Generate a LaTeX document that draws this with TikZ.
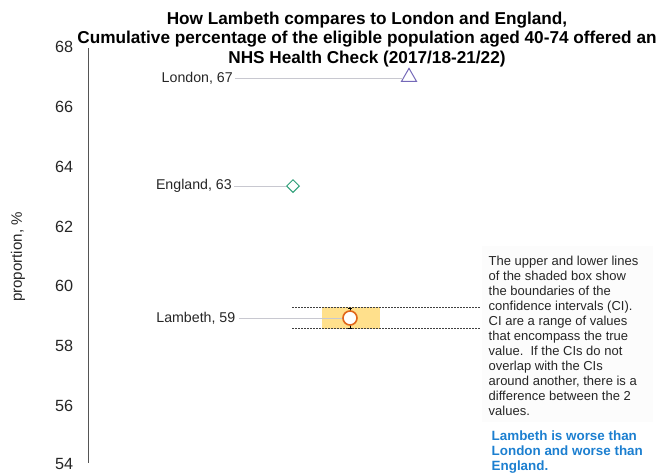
\documentclass[tikz,border=0pt]{standalone}
\usepackage{fontspec}
\setmainfont{Liberation Sans}
\usetikzlibrary{shapes.geometric}
\definecolor{lonc}{HTML}{7468B8}
\definecolor{engc}{HTML}{2E9E78}
\definecolor{lamc}{HTML}{E0661A}
\definecolor{cibox}{HTML}{FFE08C}
\definecolor{concl}{HTML}{1C7FD0}
\definecolor{axc}{HTML}{555555}
\definecolor{connc}{HTML}{C8C8D0}
\begin{document}
\begin{tikzpicture}[x=1pt,y=-1pt,
  ticklab/.style={anchor=east,font=\fontsize{16.2}{17}\selectfont,text=black!85,inner sep=0pt},
  arealab/.style={anchor=east,font=\fontsize{14.2}{15}\selectfont,text=black!85,inner sep=0pt},
  conn/.style={draw=connc,line width=0.8pt},
  ciline/.style={draw=black!75,dashed,dash pattern=on 2pt off 1pt,line width=0.8pt}]
\useasboundingbox (0,0) rectangle (664,472);
% title
\node[font=\bfseries\fontsize{17.2}{19.3}\selectfont,align=center,inner sep=0pt] (title) at (367,39.5)
 {How Lambeth compares to London and England,\\Cumulative percentage of the eligible population aged 40-74 offered an\\NHS Health Check (2017/18-21/22)};
% axis
\coordinate (axtop) at (88,48);
\coordinate (axbot) at (88,463);
\draw[axc,line width=1pt] (axtop) -- (axbot);
\node[ticklab] (t68) at (73.3,46.7) {68};
\node[ticklab] (t66) at (73.3,106.7) {66};
\node[ticklab] (t64) at (73.3,166.7) {64};
\node[ticklab] (t62) at (73.3,226.7) {62};
\node[ticklab] (t60) at (73.3,285.5) {60};
\node[ticklab] (t58) at (73.3,345.5) {58};
\node[ticklab] (t56) at (73.3,405.5) {56};
\node[ticklab] (t54) at (73.3,464) {54};
\node[rotate=90,font=\fontsize{15.1}{16}\selectfont,text=black!85] (ylab) at (18,257) {proportion, \%};
% CI box
\fill[cibox] (322,307) rectangle (380,329);
\coordinate (ciul) at (292,307.5);
\coordinate (ciur) at (480,307.5);
\coordinate (cill) at (292,328.5);
\coordinate (cilr) at (480,328.5);
\draw[ciline] (ciul) -- (ciur);
\draw[ciline] (cill) -- (cilr);
% London
\node[arealab] (lonlab) at (233,78) {London, 67};
\node[draw=lonc,isosceles triangle,shape border rotate=90,isosceles triangle apex angle=60,
  minimum size=13pt,inner sep=0pt,line width=1pt,fill=white] (lon) at (409,77) {};
\draw[conn] (lonlab.east) ++(2,0) coordinate (lonst) (lonst) -- (lon.west |- lonst);
% England
\node[arealab] (englab) at (232,186) {England, 63};
\node[draw=engc,diamond,minimum size=13pt,inner sep=0pt,line width=1pt,fill=white] (eng) at (293,186) {};
\draw[conn] (englab.east) ++(2,0) coordinate (engst) (engst) -- (eng.west);
% Lambeth
\node[arealab] (lamlab) at (235.5,318) {Lambeth, 59};
\draw[conn] (lamlab.east) ++(3,0) coordinate (lamst) (lamst) -- (350,318) coordinate (lamend);
\coordinate (ebt) at (350,308);
\coordinate (ebb) at (350,328);
\draw[black,line width=0.9pt] (ebt) -- (ebb);
\draw[black,line width=0.9pt] ([xshift=-2pt]ebt) -- ([xshift=2pt]ebt);
\draw[black,line width=0.9pt] ([xshift=-2pt]ebb) -- ([xshift=2pt]ebb);
\node[draw=lamc,circle,minimum size=14pt,inner sep=0pt,line width=1.6pt,fill=white] (lam) at (350,318) {};
% note
\fill[black!1.2] (482,246) rectangle (653,422);
\node[anchor=north west,align=left,inner sep=0pt,font=\fontsize{13}{15}\selectfont,text=black!85] (note) at (488.5,256)
 {The upper and lower lines\\of the shaded box show\\the boundaries of the\\confidence intervals (CI).\\CI are a range of values\\that encompass the true\\value.\ \ If the CIs do not\\overlap with the CIs\\around another, there is a\\difference between the 2\\values.};
\node[anchor=north west,align=left,inner sep=0pt,font=\bfseries\fontsize{13.4}{14.8}\selectfont,text=concl] (concl) at (491.5,430.5)
 {Lambeth is worse than\\London and worse than\\England.};
\end{tikzpicture}
\end{document}
